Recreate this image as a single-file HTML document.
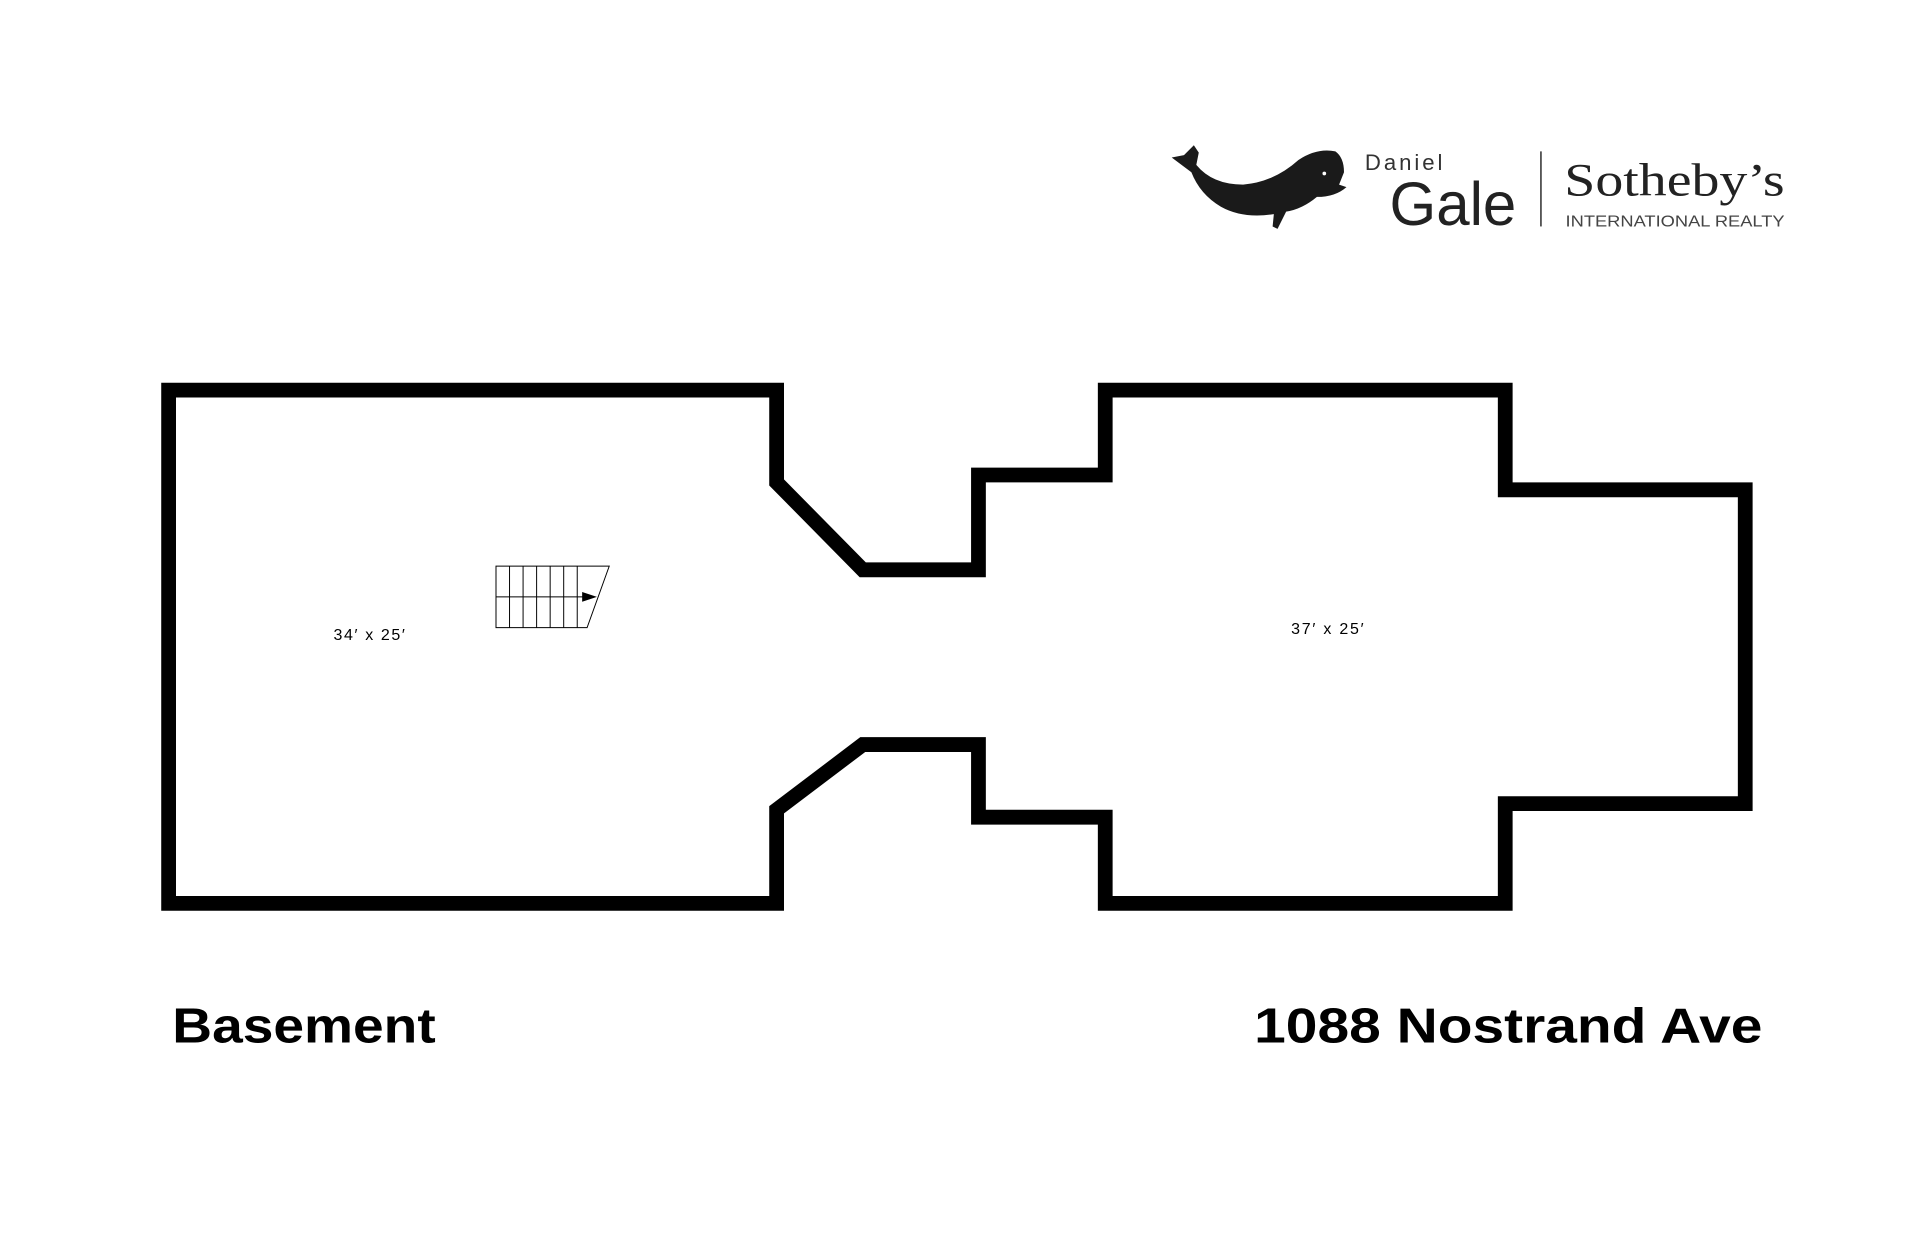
<!DOCTYPE html>
<html><head><meta charset="utf-8"><style>html,body{margin:0;padding:0;background:#fff}svg{display:block}</style></head>
<body>
<svg width="1920" height="1243" viewBox="0 0 1560 1010" preserveAspectRatio="none" xmlns="http://www.w3.org/2000/svg">
<rect width="1560" height="1010" fill="#fff"/>
<!-- whale -->
<path d="M952,128 L962,126 L970,118 L974,124 L972,134 Q985,150 1010,150 Q1035,148 1055,130 Q1070,120 1085,123 Q1092,128 1092,140 L1088,150 L1094,152 Q1085,160 1070,160 Q1058,170 1045,172 L1038,186 L1034,184 L1035,174 Q1010,178 992,168 Q975,158 968,140 Q960,134 952,128 Z" fill="#1a1a1a"/>
<circle cx="1076" cy="141" r="1.5" fill="#fff"/>
<text x="1109" y="138" font-family="Liberation Sans, sans-serif" font-size="18" fill="#333" textLength="63">Daniel</text>
<text x="1129" y="183" font-family="Liberation Sans, sans-serif" font-size="50" fill="#222" textLength="103" lengthAdjust="spacingAndGlyphs">Gale</text>
<line x1="1252" y1="123" x2="1252" y2="184" stroke="#555" stroke-width="1.5"/>
<text x="1271" y="159" font-family="Liberation Serif, serif" font-size="38" fill="#222" textLength="179" lengthAdjust="spacingAndGlyphs">Sotheby’s</text>
<text x="1272" y="184" font-family="Liberation Sans, sans-serif" font-size="13" fill="#444" textLength="178" lengthAdjust="spacingAndGlyphs">INTERNATIONAL REALTY</text>
<!-- floor plan -->
<path d="M137,317 L631,317 L631,392 L701,463 L795,463 L795,386 L898,386 L898,317 L1223,317 L1223,398 L1418,398 L1418,653 L1223,653 L1223,734 L898,734 L898,664 L795,664 L795,605 L701,605 L631,658 L631,734 L137,734 Z" fill="none" stroke="#000" stroke-width="12" stroke-linejoin="miter" stroke-miterlimit="10"/>
<!-- stairs -->
<g stroke="#000" stroke-width="0.8" fill="none">
<path d="M403,460 L495,460 L477,510 L403,510 Z"/>
<line x1="414" y1="460" x2="414" y2="510"/><line x1="425" y1="460" x2="425" y2="510"/><line x1="436" y1="460" x2="436" y2="510"/><line x1="447" y1="460" x2="447" y2="510"/><line x1="458" y1="460" x2="458" y2="510"/><line x1="469" y1="460" x2="469" y2="510"/>
<line x1="403" y1="485" x2="480" y2="485"/>
</g>
<path d="M473,481 L485,485 L473,489 Z" fill="#000"/>
<text x="271" y="520" font-family="Liberation Sans, sans-serif" font-size="13" fill="#000" textLength="58">34′ x 25′</text>
<text x="1049" y="515" font-family="Liberation Sans, sans-serif" font-size="13" fill="#000" textLength="59">37′ x 25′</text>
<text x="140" y="847" font-family="Liberation Sans, sans-serif" font-weight="bold" font-size="40" fill="#000" textLength="214" lengthAdjust="spacingAndGlyphs">Basement</text>
<text x="1019" y="847" font-family="Liberation Sans, sans-serif" font-weight="bold" font-size="40" fill="#000" textLength="413" lengthAdjust="spacingAndGlyphs">1088 Nostrand Ave</text>
</svg>
</body></html>
